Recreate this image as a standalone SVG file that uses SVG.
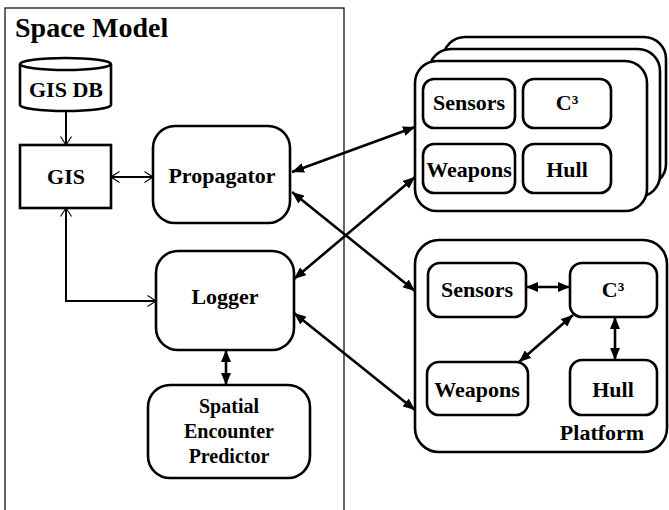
<svg xmlns="http://www.w3.org/2000/svg" width="669" height="510" viewBox="0 0 669 510">
  <style>
    .box { fill: #fff; stroke: #000; stroke-width: 2.6; }
    .frame { fill: none; stroke: #000; stroke-width: 1.2; }
    .lbl { font-family: 'Liberation Serif', 'DejaVu Serif', serif; font-weight: bold; font-size: 22px; fill: #000; text-anchor: middle; }
    .sm { font-size: 20px; }
    .title { font-size: 28px; text-anchor: start; }
    .link { fill: none; stroke: #000; stroke-width: 2.6; }
    .thin { fill: none; stroke: #000; stroke-width: 2; }
  </style>
  <defs>
    <marker id="solid" markerUnits="userSpaceOnUse" viewBox="0 0 12 10" refX="12" refY="5" markerWidth="12" markerHeight="10" orient="auto-start-reverse">
      <path d="M0,0 L12,5 L0,10 Z" fill="#000"/>
    </marker>
    <marker id="open" markerUnits="userSpaceOnUse" viewBox="0 0 10 12" refX="9.5" refY="6" markerWidth="10" markerHeight="12" orient="auto-start-reverse">
      <path d="M1,0.5 L9.5,6 L1,11.5" fill="none" stroke="#000" stroke-width="1.1"/>
    </marker>
  </defs>

  <!-- Space Model container -->
  <g id="space-model">
    <rect class="frame" x="5" y="8" width="339" height="510"/>
    <text class="lbl title" x="15" y="37">Space Model</text>
  </g>

  <g id="gis-db">
    <path class="box" d="M20,64 A45.5,6 0 0 1 111,64 L111,105 A45.5,6 0 0 1 20,105 Z"/>
    <path class="box" style="fill:none" d="M20,64 A45.5,6 0 0 0 111,64"/>
    <text class="lbl" x="66" y="97">GIS DB</text>
  </g>

  <g id="gis">
    <rect class="box" x="20" y="145" width="91" height="63"/>
    <text class="lbl" x="66" y="184">GIS</text>
  </g>

  <g id="propagator">
    <rect class="box" x="153" y="126" width="137" height="97" rx="22"/>
    <text class="lbl" x="222" y="183">Propagator</text>
  </g>

  <g id="logger">
    <rect class="box" x="156" y="251" width="138" height="99" rx="22"/>
    <text class="lbl" x="225" y="304">Logger</text>
  </g>

  <g id="encounter-predictor">
    <rect class="box" x="148" y="385" width="162" height="93" rx="22"/>
    <text class="lbl sm" x="229" y="413">Spatial</text>
    <text class="lbl sm" x="229" y="438">Encounter</text>
    <text class="lbl sm" x="229" y="463">Predictor</text>
  </g>

  <!-- stacked platform instances -->
  <g id="platform-stack">
    <rect class="box" x="443" y="37" width="223" height="149" rx="22"/>
    <rect class="box" x="429" y="49" width="231" height="148" rx="22"/>
    <rect class="box" x="415" y="61" width="232" height="150" rx="22"/>
    <g id="stack-sensors">
      <rect class="box" x="423" y="79" width="92" height="49" rx="11"/>
      <text class="lbl" x="469" y="110">Sensors</text>
    </g>
    <g id="stack-c3">
      <rect class="box" x="523" y="79" width="88" height="49" rx="11"/>
      <text class="lbl" x="567" y="110">C³</text>
    </g>
    <g id="stack-weapons">
      <rect class="box" x="423" y="144" width="92" height="49" rx="11"/>
      <text class="lbl" x="469" y="177">Weapons</text>
    </g>
    <g id="stack-hull">
      <rect class="box" x="523" y="144" width="88" height="49" rx="11"/>
      <text class="lbl" x="567" y="177">Hull</text>
    </g>
  </g>

  <!-- single platform with internal links -->
  <g id="platform">
    <rect class="box" x="415" y="240" width="252" height="212" rx="24"/>
    <text class="lbl" x="602" y="440">Platform</text>
    <g id="platform-sensors">
      <rect class="box" x="428" y="263" width="98" height="54" rx="12"/>
      <text class="lbl" x="477" y="297">Sensors</text>
    </g>
    <g id="platform-c3">
      <rect class="box" x="570" y="263" width="87" height="54" rx="12"/>
      <text class="lbl" x="613" y="297">C³</text>
    </g>
    <g id="platform-weapons">
      <rect class="box" x="427" y="362" width="101" height="53" rx="12"/>
      <text class="lbl" x="477" y="397">Weapons</text>
    </g>
    <g id="platform-hull">
      <rect class="box" x="570" y="360" width="87" height="55" rx="12"/>
      <text class="lbl" x="613" y="397">Hull</text>
    </g>
  </g>

  <g id="connectors">
    <line class="thin" x1="66" y1="111" x2="66" y2="145" marker-end="url(#open)"/>
    <line class="thin" x1="111" y1="177" x2="153" y2="177" marker-start="url(#open)" marker-end="url(#open)"/>
    <polyline class="thin" points="66,208 66,301 156,301" marker-start="url(#open)" marker-end="url(#open)"/>
    <line class="link" x1="226" y1="350" x2="226" y2="385" marker-start="url(#solid)" marker-end="url(#solid)"/>
    <line class="link" x1="292" y1="172" x2="415" y2="127" marker-start="url(#solid)" marker-end="url(#solid)"/>
    <line class="link" x1="292" y1="192" x2="415" y2="291" marker-start="url(#solid)" marker-end="url(#solid)"/>
    <line class="link" x1="294" y1="279" x2="415" y2="177" marker-start="url(#solid)" marker-end="url(#solid)"/>
    <line class="link" x1="294" y1="313" x2="415" y2="410" marker-start="url(#solid)" marker-end="url(#solid)"/>
    <line class="link" x1="526" y1="287" x2="570" y2="287" marker-start="url(#solid)" marker-end="url(#solid)"/>
    <line class="link" x1="573" y1="315" x2="519" y2="362" marker-start="url(#solid)" marker-end="url(#solid)"/>
    <line class="link" x1="615" y1="317" x2="615" y2="360" marker-start="url(#solid)" marker-end="url(#solid)"/>
  </g>
</svg>
